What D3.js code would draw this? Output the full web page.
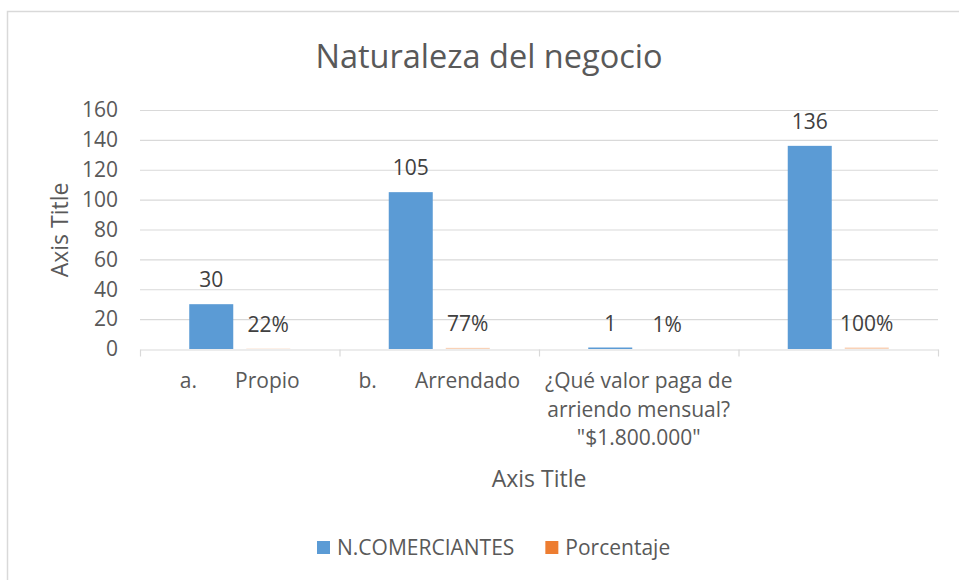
<!DOCTYPE html>
<html>
<head>
<meta charset="utf-8">
<script src="https://cdn.jsdelivr.net/npm/d3@7"></script>
<style>
 body { margin: 0; background: #fff; }
 text { font-family: "Open Sans", sans-serif; }
</style>
</head>
<body>
<svg id="chart" width="959" height="580"></svg>
<script>
// chart data
const categories = ["a.       Propio", "b.       Arrendado", "¿Qué valor paga de\narriendo mensual?\n\"$1.800.000\"", ""];
const seriesNames = ["N.COMERCIANTES", "Porcentaje"];
const comerciantes = [30, 105, 1, 136];
const porcentaje = [0.22, 0.77, 0.01, 1.00];
const porcentajeLabels = ["22%", "77%", "1%", "100%"];
const yTicks = [0, 20, 40, 60, 80, 100, 120, 140, 160];
const colors = ["#5B9BD5", "#ED7D31"];

const svg = d3.select("#chart");
const plotLeft = 140, plotRight = 938, plotTop = 110, plotBottom = 349;

// outer frame
svg.append("rect")
  .attr("x", 7.5).attr("y", 11.5)
  .attr("width", 980).attr("height", 600)
  .attr("fill", "none").attr("stroke", "#d9d9d9").attr("stroke-width", 1.5);

const x = d3.scaleBand().domain(d3.range(categories.length)).range([plotLeft, plotRight]);
const xs = d3.scaleBand().domain(seriesNames).range([0, x.bandwidth()])
  .paddingInner(0.228).paddingOuter(0.864);
const y = d3.scaleLinear().domain([0, 160]).range([plotBottom, plotTop]);

// gridlines
svg.append("g").selectAll("line").data(yTicks.slice(1)).join("line")
  .attr("x1", plotLeft).attr("x2", plotRight)
  .attr("y1", d => y(d) + 0.5).attr("y2", d => y(d) + 0.5)
  .attr("stroke", "#d9d9d9").attr("stroke-width", 1.2);

// y labels
svg.append("g").selectAll("text").data(yTicks).join("text")
  .attr("x", 118).attr("y", d => y(d))
  .attr("dy", "0.35em")
  .attr("text-anchor", "end")
  .attr("font-size", 21).attr("fill", "#595959")
  .text(d => d);

// category labels
const catG = svg.append("g").selectAll("text").data(categories).join("text")
  .attr("x", (d, i) => x(i) + x.bandwidth() / 2)
  .attr("y", 388)
  .attr("text-anchor", "middle")
  .attr("font-size", 21).attr("fill", "#595959")
  .style("white-space", "pre");
catG.each(function(d) {
  const t = d3.select(this);
  d.split("\n").forEach((line, k) => {
    t.append("tspan")
      .attr("x", t.attr("x"))
      .attr("dy", k === 0 ? 0 : 28.5)
      .text(line);
  });
});

// bars
const seriesValues = [comerciantes, porcentaje];
const seriesText = [comerciantes.map(String), porcentajeLabels];
seriesNames.forEach((name, s) => {
  const g = svg.append("g");
  g.selectAll("rect").data(seriesValues[s]).join("rect")
    .attr("x", (d, i) => x(i) + xs(name))
    .attr("width", xs.bandwidth())
    .attr("y", d => y(d))
    .attr("height", d => plotBottom - y(d))
    .attr("fill", colors[s])
    .attr("fill-opacity", s === 1 ? 0.35 : 1);
  g.selectAll("text").data(seriesValues[s]).join("text")
    .attr("x", (d, i) => x(i) + xs(name) + xs.bandwidth() / 2)
    .attr("y", d => y(d) - 17)
    .attr("text-anchor", "middle")
    .attr("font-size", 21).attr("fill", "#404040")
    .text((d, i) => seriesText[s][i]);
});

// x axis line and ticks
const xAxis = d3.axisBottom(x).tickValues([]).tickSizeOuter(0);
const gx = svg.append("g").attr("transform", `translate(0,${plotBottom + 0.5})`).call(xAxis);
gx.select(".domain").attr("stroke", "#d9d9d9").attr("stroke-width", 1.2);
const bounds = d3.range(categories.length + 1).map(i => i < categories.length ? x(i) : x(i - 1) + x.bandwidth());
gx.selectAll(".bound").data(bounds).join("line").attr("class", "bound")
  .attr("x1", d => d + 0.5).attr("x2", d => d + 0.5)
  .attr("y1", 0).attr("y2", 7)
  .attr("stroke", "#d9d9d9").attr("stroke-width", 1.2);

// title
svg.append("text")
  .attr("x", 489).attr("y", 68)
  .attr("text-anchor", "middle")
  .attr("font-size", 32.5).attr("fill", "#595959")
  .text("Naturaleza del negocio");

// axis titles
svg.append("text")
  .attr("x", 539).attr("y", 487)
  .attr("text-anchor", "middle")
  .attr("font-size", 23).attr("fill", "#595959")
  .text("Axis Title");
svg.append("text")
  .attr("transform", "translate(68,230) rotate(-90)")
  .attr("text-anchor", "middle")
  .attr("font-size", 23).attr("fill", "#595959")
  .text("Axis Title");

// legend
const legend = svg.append("g").attr("transform", "translate(317,548)");
let lx = 0;
seriesNames.forEach((name, s) => {
  const item = legend.append("g").attr("transform", `translate(${lx},0)`);
  item.append("rect").attr("x", 0).attr("y", -7).attr("width", 13).attr("height", 13).attr("fill", colors[s]);
  const t = item.append("text").attr("x", 20).attr("y", 0).attr("dy", "0.35em")
    .attr("font-size", 21).attr("fill", "#595959").text(name);
  lx += 20 + t.node().getComputedTextLength() + 31;
});
</script>
</body>
</html>
